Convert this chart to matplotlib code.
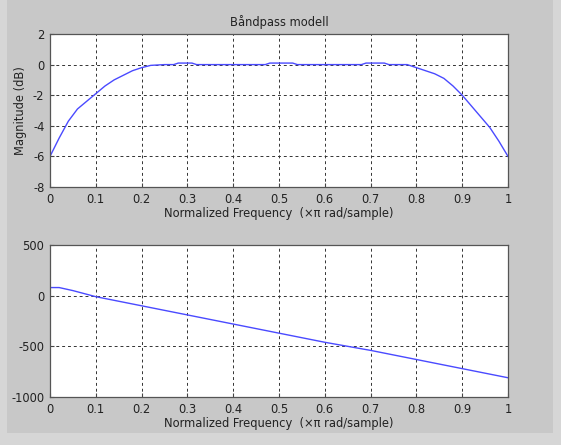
import matplotlib.pyplot as plt
import numpy as np

# frequency response of the bandpass model (read at these normalized frequencies)
freq_mag = [0.0, 0.02, 0.04, 0.06, 0.08, 0.10, 0.12, 0.14, 0.16, 0.18, 0.20, 0.22, 0.25,
            0.27, 0.28, 0.31, 0.32, 0.47, 0.48, 0.53, 0.54, 0.68, 0.69, 0.73, 0.74,
            0.78, 0.80, 0.82, 0.84, 0.86, 0.88, 0.90, 0.92, 0.94, 0.96, 0.98, 1.0]
mag_db = [-6.0, -4.8, -3.7, -2.9, -2.4, -1.9, -1.4, -1.0, -0.7, -0.4, -0.2, -0.05, 0.0,
          0.0, 0.1, 0.1, 0.0, 0.0, 0.1, 0.1, 0.0, 0.0, 0.1, 0.1, 0.0,
          0.0, -0.2, -0.4, -0.6, -0.9, -1.4, -2.0, -2.7, -3.4, -4.1, -5.0, -6.0]

freq_ph = [0.0, 0.02, 0.05, 0.1, 0.2, 0.3, 0.4, 0.5, 0.6, 0.7, 0.8, 0.9, 1.0]
phase_deg = [80, 80, 50, -10, -100, -190, -280, -370, -460, -540, -630, -720, -810]

xticks = np.arange(0, 1.01, 0.1)
xticklabels = ['0', '0.1', '0.2', '0.3', '0.4', '0.5', '0.6', '0.7', '0.8', '0.9', '1']
xlabel = 'Normalized Frequency  (\u00d7\u03c0 rad/sample)'

plt.rcParams['font.family'] = ['DejaVu Sans']
plt.rcParams['font.size'] = 8.3
plt.rcParams['axes.unicode_minus'] = False

fig = plt.figure(figsize=(5.61, 4.45), dpi=100, facecolor='#d6d6d6')
# inner window panel, kept behind the axes
panel = plt.Rectangle((7 / 561, 12 / 445), 546 / 561, 433 / 445,
                      transform=fig.transFigure, facecolor='#c8c8c8',
                      edgecolor='none', zorder=-10)
fig.add_artist(panel)


def style_axes(ax):
    ax.set_facecolor('white')
    ax.set_xlim(0, 1)
    ax.set_xticks(xticks)
    ax.set_xticklabels(xticklabels)
    ax.grid(True, color='#333333', linestyle=(0, (3, 3)), linewidth=0.7)
    ax.tick_params(direction='in', length=3, color='#444444', labelcolor='#222222', pad=4)
    for s in ax.spines.values():
        s.set_color('#555555')
        s.set_linewidth(0.9)
    ax.set_xlabel(xlabel, color='#222222', labelpad=1)


ax1 = fig.add_axes([50 / 561, 1 - 187 / 445, 458 / 561, 153 / 445])
ax1.plot(freq_mag, mag_db, color='#4a4aff', linewidth=1.0)
style_axes(ax1)
ax1.set_ylim(-8, 2)
ax1.set_yticks([-8, -6, -4, -2, 0, 2])
ax1.set_ylabel('Magnitude (dB)', color='#222222', labelpad=4)
ax1.set_title('B\u00e5ndpass modell', color='#222222', pad=6, fontsize=8.3)

ax2 = fig.add_axes([50 / 561, 1 - 397 / 445, 458 / 561, 152 / 445])
ax2.plot(freq_ph, phase_deg, color='#4a4aff', linewidth=1.0)
style_axes(ax2)
ax2.set_ylim(-1000, 500)
ax2.set_yticks([-1000, -500, 0, 500])

fig.savefig('out.png', dpi=100, facecolor=fig.get_facecolor())
